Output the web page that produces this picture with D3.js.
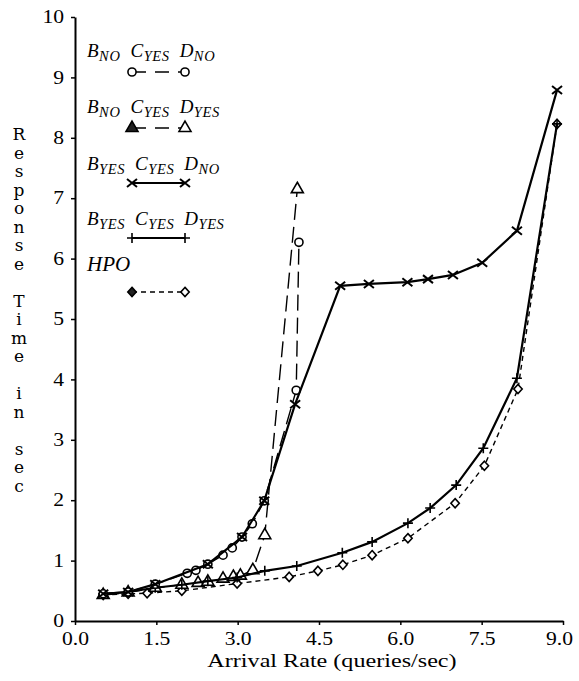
<!DOCTYPE html>
<html>
<head>
<meta charset="utf-8">
<script src="https://cdn.jsdelivr.net/npm/d3@7"></script>
<style>
  body { margin: 0; background: #fff; }
  text { font-family: "Liberation Serif", "Times New Roman", serif; fill: #000; }
</style>
</head>
<body>
<svg id="chart" width="579" height="681"></svg>
<script>
// ---- data ----
const xTicks = [0, 1.5, 3, 4.5, 6, 7.5, 9];
const yTicks = [0, 1, 2, 3, 4, 5, 6, 7, 8, 9, 10];

// B_NO C_YES D_NO (circles)
const noYesNoRate = [0.52, 0.98, 1.48, 2.07, 2.23, 2.45, 2.73, 2.90, 3.08, 3.27, 3.49, 4.08, 4.13];
const noYesNoTime = [0.45, 0.48, 0.61, 0.79, 0.84, 0.94, 1.09, 1.21, 1.39, 1.61, 1.99, 3.82, 6.27];

// B_NO C_YES D_YES (triangles)
const noYesYesRate = [0.52, 0.98, 1.48, 1.97, 2.27, 2.45, 2.73, 2.92, 3.05, 3.28, 3.50, 4.10];
const noYesYesTime = [0.43, 0.47, 0.55, 0.60, 0.63, 0.65, 0.70, 0.73, 0.75, 0.84, 1.42, 7.15];

// B_YES C_YES D_NO (crosses)
const yesYesNoRate = [0.52, 0.98, 1.48, 2.45, 3.08, 3.49, 4.06, 4.89, 5.42, 6.13, 6.51, 6.97, 7.51, 8.15, 8.89];
const yesYesNoTime = [0.45, 0.48, 0.61, 0.94, 1.39, 1.99, 3.59, 5.55, 5.58, 5.61, 5.66, 5.73, 5.93, 6.46, 8.79];

// B_YES C_YES D_YES (pluses)
const yesYesYesRate = [0.52, 0.98, 1.48, 1.97, 2.45, 2.99, 3.50, 4.09, 4.93, 5.48, 6.14, 6.55, 7.03, 7.53, 8.15, 8.89];
const yesYesYesTime = [0.45, 0.48, 0.55, 0.60, 0.66, 0.72, 0.83, 0.91, 1.13, 1.31, 1.62, 1.87, 2.25, 2.86, 4.02, 8.23];

// HPO (diamonds)
const hpoRate = [0.52, 0.98, 1.33, 1.97, 2.99, 3.95, 4.48, 4.94, 5.48, 6.14, 7.01, 7.55, 8.17, 8.89];
const hpoTime = [0.43, 0.45, 0.46, 0.50, 0.62, 0.73, 0.83, 0.93, 1.09, 1.37, 1.95, 2.57, 3.84, 8.23];

const legendNames = [
    [["B", "NO"], ["C", "YES"], ["D", "NO"]],
    [["B", "NO"], ["C", "YES"], ["D", "YES"]],
    [["B", "YES"], ["C", "YES"], ["D", "NO"]],
    [["B", "YES"], ["C", "YES"], ["D", "YES"]],
    [["HPO", ""]]
];
const xTitle = "Arrival Rate (queries/sec)";
const yTitle = "Response Time in sec";

// ---- layout ----
const svg = d3.select("#chart");
const width = +svg.attr("width");
const height = +svg.attr("height");
const margin = {top: 17, right: 16, bottom: 60, left: 75};
const innerWidth = width - margin.left - margin.right;
const innerHeight = height - margin.top - margin.bottom;

const xScale = d3.scaleLinear().domain([0, 9]).range([0, innerWidth]);
const yScale = d3.scaleLinear().domain([0, 10]).range([innerHeight, 0]);

const chart = svg.append("g")
    .attr("transform", "translate(" + margin.left + "," + margin.top + ")");

// the scanned lettering is wider than the font: stretch it with textLength
function widen(sel, k) {
    sel.each(function() {
        const w = this.getComputedTextLength();
        d3.select(this)
            .attr("textLength", w * k)
            .attr("lengthAdjust", "spacingAndGlyphs");
    });
}

// ---- markers ----
const markerPaths = {
    circle: d3.symbol(d3.symbolCircle, 52)(),
    triangle: d3.symbol(d3.symbolTriangle, 62)(),
    cross: "M-5,-4L5,4M-5,4L5,-4",
    plus: "M-5,0H5M0,-5V5",
    diamond: "M0,-4.6L4.2,0L0,4.6L-4.2,0Z"
};

function drawMarker(g, kind, solid) {
    const open = kind === "circle" || kind === "triangle" || kind === "diamond";
    g.append("path")
        .attr("d", markerPaths[kind])
        .attr("fill", open ? (solid ? "#222" : "#fff") : "none")
        .attr("stroke", "#000")
        .attr("stroke-width", kind === "cross" ? 2 : 1.6);
}

const seriesList = [
    {rate: hpoRate, time: hpoTime, marker: "diamond", dash: "5,4", width: 1.4},
    {rate: noYesYesRate, time: noYesYesTime, marker: "triangle", dash: "16,7", width: 1.4},
    {rate: yesYesYesRate, time: yesYesYesTime, marker: "plus", dash: null, width: 2.2},
    {rate: noYesNoRate, time: noYesNoTime, marker: "circle", dash: "16,7", width: 1.4},
    {rate: yesYesNoRate, time: yesYesNoTime, marker: "cross", dash: null, width: 2.2}
];

const line = d3.line()
    .x((d) => xScale(d[0]))
    .y((d) => yScale(d[1]));

seriesList.forEach((s) => {
    const pts = s.rate.map((r, i) => [r, s.time[i]]);
    chart.append("path")
        .datum(pts)
        .attr("d", line)
        .attr("fill", "none")
        .attr("stroke", "#000")
        .attr("stroke-width", s.width)
        .attr("stroke-dasharray", s.dash);
    chart.selectAll(null)
        .data(pts)
        .enter()
        .append("g")
            .attr("transform", (d) => "translate(" + xScale(d[0]) + "," + yScale(d[1]) + ")")
            .each(function() { drawMarker(d3.select(this), s.marker, false); });
});

// ---- axes ----
const xAxisG = chart.append("g")
    .attr("transform", "translate(0," + innerHeight + ")")
    .call(d3.axisBottom(xScale).tickValues(xTicks).tickSize(4).tickSizeOuter(0)
        .tickPadding(7).tickFormat(d3.format(".1f")));

const yAxisG = chart.append("g")
    .call(d3.axisLeft(yScale).tickValues(yTicks).tickSize(4).tickSizeOuter(0)
        .tickPadding(7).tickFormat(d3.format("d")));

[xAxisG, yAxisG].forEach((g) => {
    g.attr("font-family", null).attr("font-size", null);
    g.select(".domain").attr("stroke-width", 2);
    g.selectAll(".tick line").attr("stroke-width", 1.5);
    g.selectAll("text").style("font-size", "18px");
    widen(g.selectAll("text"), 1.2);
});
xAxisG.selectAll("text").filter((d) => d === 9).attr("x", -4);

// ---- axis titles ----
const xTitleText = chart.append("text")
    .attr("x", innerWidth / 2 + 13)
    .attr("y", innerHeight + 46)
    .attr("text-anchor", "middle")
    .style("font-size", "19px")
    .text(xTitle);
widen(xTitleText, 1.27);

// y title: upright letters stacked one above the other
const yTitleText = svg.append("text")
    .attr("text-anchor", "middle")
    .style("font-family", "'DejaVu Serif', serif")
    .style("font-size", "17px");
let gap = 0;
yTitle.split("").forEach((ch, i) => {
    if (ch === " ") { gap += 18.5; return; }
    yTitleText.append("tspan")
        .attr("x", 19)
        .attr("y", 140 + i * 18.5)
        .text(ch);
});

// ---- legend ----
const legendTextY = [57, 113, 170, 225, 271];
const legendLineY = [72, 128, 183, 238, 292];
const legendKinds = ["circle", "triangle", "cross", "plus", "diamond"];
const legendDash = ["14,9", "14,9", null, null, "5,4"];

legendNames.forEach((parts, i) => {
    const t = svg.append("text")
        .attr("x", 87)
        .attr("y", legendTextY[i])
        .style("font-style", "italic");
    parts.forEach((p, j) => {
        t.append("tspan")
            .attr("dx", j === 0 ? 0 : 10)
            .attr("dy", j === 0 ? 0 : -3.5)
            .style("font-size", p[1] ? "19px" : "21px")
            .text(p[0]);
        if (p[1]) {
            t.append("tspan")
                .attr("dx", 0.5)
                .attr("dy", 3.5)
                .style("font-size", "14.5px")
                .style("letter-spacing", "0.6px")
                .text(p[1]);
        }
    });

    const lg = svg.append("g");
    lg.append("line")
        .attr("x1", 132).attr("x2", 185)
        .attr("y1", legendLineY[i]).attr("y2", legendLineY[i])
        .attr("stroke", "#000")
        .attr("stroke-width", legendDash[i] ? 1.4 : 1.8)
        .attr("stroke-dasharray", legendDash[i]);
    [132, 185].forEach((x, k) => {
        const m = lg.append("g").attr("transform", "translate(" + x + "," + legendLineY[i] + ")");
        drawMarker(m, legendKinds[i], k === 0 && i !== 0);
    });
});
</script>
</body>
</html>
